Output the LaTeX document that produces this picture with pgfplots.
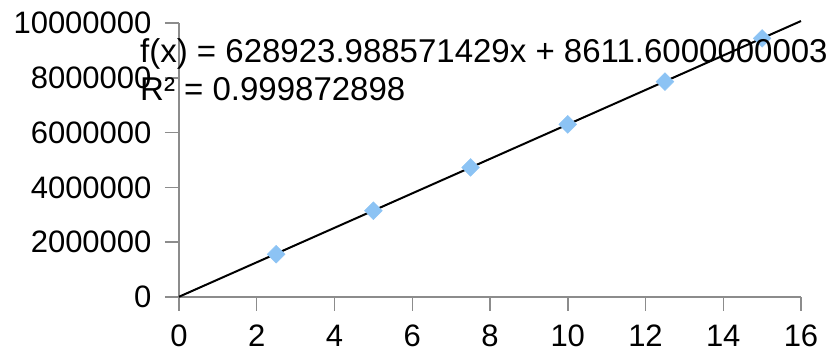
\documentclass[border=0pt]{standalone}
\usepackage{pgfplots}
\pgfplotsset{compat=1.18}
\usepackage{fontspec}
\setmainfont{Liberation Sans}
\definecolor{axgray}{HTML}{8C8C8C}
\definecolor{mblue}{HTML}{8CC3F4}
\begin{document}
\fontsize{31}{37}\selectfont
\begin{tikzpicture}
\useasboundingbox (0,0) rectangle (836pt,352pt);
\begin{axis}[
  at={(179pt,55pt)}, anchor=origin,
  scale only axis, width=622pt, height=274pt,
  xmin=0, xmax=16, ymin=0, ymax=10000000,
  axis x line*=bottom, axis y line*=left,
  axis line style={axgray, line width=1.5pt, -},
  xtick={0,2,...,16}, ytick={0,2000000,...,10000000},
  tick style={axgray, line width=1.5pt},
  tick align=outside, major tick length=14pt,
  scaled y ticks=false,
  /pgf/number format/assume math mode=true,
  yticklabel={\pgfmathprintnumber[fixed,precision=0,1000 sep={}]{\tick}},
  xticklabel={\pgfmathprintnumber[fixed,precision=0]{\tick}},
  ticklabel style={font=\fontsize{31}{37}\selectfont, text=black},
  yticklabel style={xshift=-3pt},
  xticklabel style={anchor=north, text height=23pt, text depth=0pt, yshift=-2pt},
  clip=false,
]
\addplot[mblue, only marks, mark=square*, mark size=6.3pt, mark options={draw=none, fill=mblue, rotate=45}]
  coordinates {(2.5,1560000) (5,3150000) (7.5,4730000) (10,6300000) (12.5,7860000) (15,9440000)};
\addplot[black, line width=2pt] coordinates {(0,8611.6) (16,10071395.4)};
\end{axis}
\node[anchor=base west, inner sep=0pt, font=\fontsize{33}{40}\selectfont] at (140pt,352pt-63pt) {f(x) = 628923.988571429x + 8611.6000000003};
\node[anchor=base west, inner sep=0pt, font=\fontsize{33}{40}\selectfont] at (140pt,352pt-101pt) {R² = 0.999872898};
\end{tikzpicture}
\end{document}
